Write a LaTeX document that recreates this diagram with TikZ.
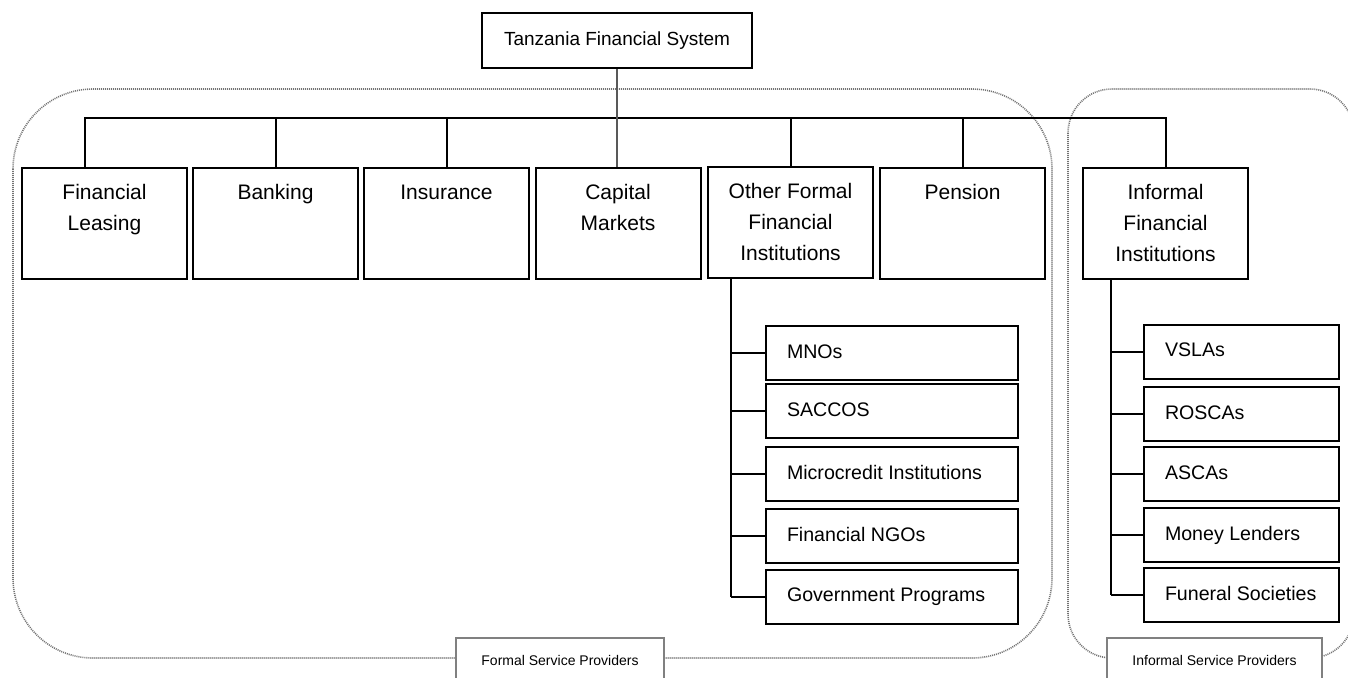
\documentclass[tikz,border=0pt]{standalone}
\usepackage{fontspec}
\setmainfont{Liberation Sans}
\usepackage{tikz}
\pgfmathsetmacro{\headW}{82.5}
\pgfmathsetmacro{\headH}{55.5}
\newcommand{\headtext}[1]{\parbox[c][\headH pt][t]{\headW pt}{\centering\rule{0pt}{15.5pt}#1}}
\newcommand{\subtext}[2]{\makebox[#1][l]{\hspace{10.5pt}\raisebox{1.5pt}{#2}}}

\begin{document}
\begin{tikzpicture}[x=0.5pt, y=-0.5pt,
		head/.style={draw, line width=1pt, inner sep=0pt, anchor=north, font=\fontsize{10.5}{15.5}\selectfont},
		sub/.style={draw, line width=1pt, inner xsep=0pt, minimum height=27pt, anchor=west, font=\fontsize{9.8}{11}\selectfont},
		region/.style={draw=black!55, line width=.8pt, dash pattern=on .5pt off .5pt, rounded corners=#1},
		tag/.style={draw=gray, line width=.7pt, fill=white, minimum height=22pt, font=\fontsize{7}{8}\selectfont},
		link/.style={line width=1pt}]
		\useasboundingbox (0,0) rectangle (1348,677);
		% service provider groups
		\draw[region=40pt] (13,89) rectangle (1052,658);
		\draw[region=22pt] (1068,89) rectangle (1354,658);
		\node[tag, minimum width=104pt] (formal) at (560,660) {Formal Service Providers};
		\node[tag, minimum width=107.5pt] (informal) at (1214.5,660) {Informal Service Providers};
		% top level
		\node[draw, line width=1pt, minimum width=135pt, minimum height=27.5pt, font=\fontsize{9.5}{11}\selectfont] (tfs) at (617,40.5) {Tanzania Financial System};
		\node[head] (lease) at (104.5,167) {\headtext{Financial\\Leasing}};
		\node[head] (bank) at (275.5,167) {\headtext{Banking}};
		\node[head] (ins) at (446.5,167) {\headtext{Insurance}};
		\node[head] (cap) at (618,167) {\headtext{Capital\\Markets}};
		\node[head] (oth) at (790.5,166) {\headtext{Other Formal\\Financial\\Institutions}};
		\node[head] (pen) at (962.5,167) {\headtext{Pension}};
		\node[head] (inf) at (1165.5,167) {\headtext{Informal\\Financial\\Institutions}};
		\coordinate (barL) at (85,118);
		\coordinate (barR) at (inf.north |- barL);
		\draw[link] (lease.north -| barL) -- (barL) -- (barR) -- (inf.north);
		\foreach \n in {bank, ins, oth, pen}
			\draw[link] (\n.north) -- (\n.north |- barL);
		\draw[link, black!65, line width=1.3pt] (tfs.south) -- (tfs.south |- cap.north);
		% formal sub-institutions
		\coordinate (fx) at (731,0);
		\node[sub] (mno) at (765,353) {\subtext{126pt}{MNOs}};
		\node[sub] (sac) at (765,411) {\subtext{126pt}{SACCOS}};
		\node[sub] (mic) at (765,474) {\subtext{126pt}{Microcredit Institutions}};
		\node[sub] (ngo) at (765,536) {\subtext{126pt}{Financial NGOs}};
		\node[sub] (gov) at (765,597) {\subtext{126pt}{Government Programs}};
		\draw[link] (oth.south -| fx) -- (gov.west -| fx);
		\foreach \n in {mno, sac, mic, ngo, gov}
			\draw[link] (\n.west -| fx) -- (\n.west);
		% informal sub-institutions
		\coordinate (ix) at (1111,0);
		\node[sub] (vsla) at (1143,351.5) {\subtext{97.5pt}{VSLAs}};
		\node[sub] (rosca) at (1143,414) {\subtext{97.5pt}{ROSCAs}};
		\node[sub] (asca) at (1143,474) {\subtext{97.5pt}{ASCAs}};
		\node[sub] (lend) at (1143,535) {\subtext{97.5pt}{Money Lenders}};
		\node[sub] (fun) at (1143,594.5) {\subtext{97.5pt}{Funeral Societies}};
		\draw[link] (inf.south -| ix) -- (fun.west -| ix);
		\foreach \n in {vsla, rosca, asca, lend, fun}
			\draw[link] (\n.west -| ix) -- (\n.west);
	\end{tikzpicture}
\end{document}
